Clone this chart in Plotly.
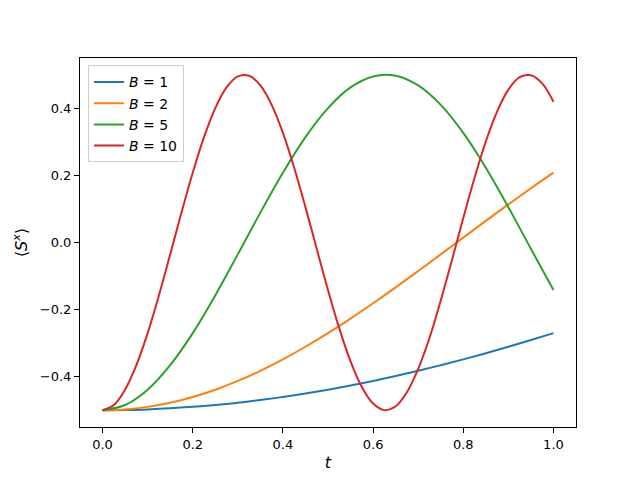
import plotly.graph_objects as go

# time samples and values
t = [0.0, 0.05, 0.1, 0.15, 0.2, 0.25, 0.3, 0.35, 0.4, 0.45, 0.5,
     0.55, 0.6, 0.65, 0.7, 0.75, 0.8, 0.85, 0.9, 0.95, 1.0]
# the B = 10 curve oscillates faster, so it is read on a finer grid
t_fine = [i / 40 for i in range(41)]

sx_b1 = [-0.5, -0.4994, -0.4975, -0.4944, -0.4900, -0.4845, -0.4777, -0.4697, -0.4605, -0.4502, -0.4388,
         -0.4263, -0.4127, -0.3980, -0.3824, -0.3658, -0.3484, -0.3300, -0.3108, -0.2908, -0.2702]
sx_b2 = [-0.5, -0.4975, -0.4900, -0.4777, -0.4605, -0.4388, -0.4127, -0.3824, -0.3484, -0.3108, -0.2702,
         -0.2268, -0.1812, -0.1338, -0.0850, -0.0354, 0.0146, 0.0644, 0.1136, 0.1616, 0.2081]
sx_b5 = [-0.5, -0.4845, -0.4388, -0.3658, -0.2702, -0.1577, -0.0354, 0.0891, 0.2081, 0.3141, 0.4006,
         0.4622, 0.4950, 0.4971, 0.4682, 0.4103, 0.3268, 0.2230, 0.1054, -0.0188, -0.1418]
sx_b10 = [-0.5, -0.4845, -0.4388, -0.3658, -0.2702, -0.1577, -0.0354, 0.0891, 0.2081, 0.3141,
          0.4006, 0.4622, 0.4950, 0.4971, 0.4682, 0.4103, 0.3268, 0.2230, 0.1054, -0.0188,
          -0.1418, -0.2560, -0.3543, -0.4306, -0.4801, -0.4997, -0.4883, -0.4465, -0.3770, -0.2847,
          -0.1733, -0.0519, 0.0727, 0.1928, 0.3010, 0.3901, 0.4556, 0.4927, 0.4986, 0.4744, 0.4195]

series = [("1", t, sx_b1, "#1f77b4"), ("2", t, sx_b2, "#ff7f0e"),
          ("5", t, sx_b5, "#2ca02c"), ("10", t_fine, sx_b10, "#d62728")]

fig = go.Figure()
for b, xs, vals, col in series:
    fig.add_trace(go.Scatter(x=xs, y=vals, mode="lines", name="<i>B</i> = " + b,
                             line=dict(color=col, width=2, shape="spline", smoothing=1.0)))

axis_style = dict(showline=True, linecolor="black", linewidth=1, mirror=True,
                  ticks="outside", ticklen=5, tickcolor="black", showgrid=False,
                  zeroline=False, tickformat=".1f")

fig.update_layout(
    width=640, height=480,
    margin=dict(l=72, r=72, t=50, b=61),
    plot_bgcolor="white", paper_bgcolor="white",
    font=dict(family="DejaVu Sans", size=13, color="black"),
    xaxis=dict(range=[-0.05, 1.05], dtick=0.2, title=dict(text="<i>t</i>", standoff=6), **axis_style),
    yaxis=dict(range=[-0.55, 0.55], dtick=0.2, tick0=0,
               title=dict(text="⟨<i>S</i><sup><i>x</i></sup>⟩", standoff=8), **axis_style),
    legend=dict(x=0.016, y=0.98, xanchor="left", yanchor="top",
                bordercolor="#cccccc", borderwidth=1, bgcolor="rgba(255,255,255,0.8)",
                font=dict(size=14)),
)

fig.write_html("out.html")
